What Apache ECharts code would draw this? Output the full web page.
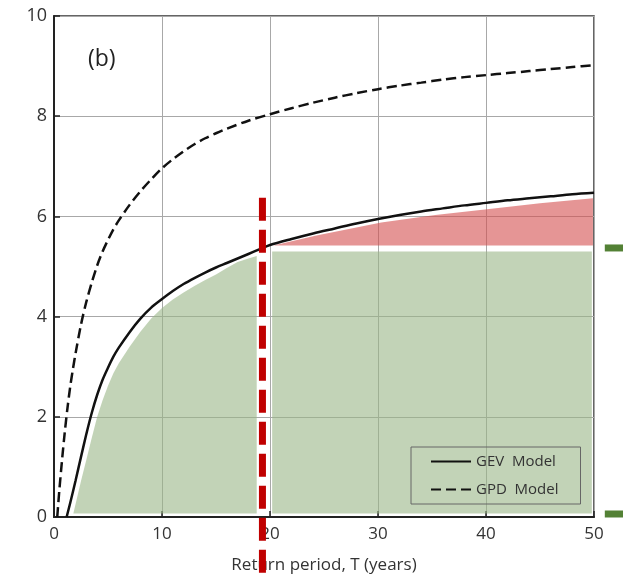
<!DOCTYPE html>
<html><head><meta charset="utf-8">
<script src="https://cdn.jsdelivr.net/npm/echarts@6/dist/echarts.min.js"></script>
<style>html,body{margin:0;padding:0;background:#fff}#c{width:623px;height:579px}</style>
</head><body><div id="c"></div>
<script>
// GEV model curve (return period T, value)
const gevT   = [1.17, 1.5, 2, 2.5, 3, 3.5, 4, 4.5, 5, 5.5, 6, 7, 8, 9, 10, 11, 12, 13, 14, 15, 16, 17, 18, 19, 20,
                22, 24, 26, 28, 30, 32, 34, 36, 38, 40, 42, 44, 46, 48, 50];
const gevVal = [0, 0.28, 0.73, 1.2, 1.66, 2.08, 2.44, 2.74, 2.98, 3.2, 3.38, 3.69, 3.96, 4.18, 4.35, 4.51, 4.65, 4.77, 4.88, 4.98, 5.07, 5.16, 5.25, 5.34, 5.43,
                5.55, 5.66, 5.76, 5.86, 5.95, 6.03, 6.10, 6.16, 6.22, 6.27, 6.32, 6.36, 6.40, 6.44, 6.47];
// GPD model curve
const gpdT   = [0.3, 0.5, 0.75, 1.0, 1.25, 1.5, 1.75, 2, 2.5, 3, 3.5, 4, 4.5, 5, 5.5, 6, 7, 8, 9, 10, 11, 12, 13, 14, 15, 16, 18, 20,
                22, 24, 26, 28, 30, 32, 34, 36, 38, 40, 42, 44, 46, 48, 50];
const gpdVal = [0, 0.55, 1.15, 1.7, 2.18, 2.6, 2.95, 3.27, 3.84, 4.3, 4.68, 5.02, 5.3, 5.53, 5.74, 5.92, 6.23, 6.5, 6.74, 6.96, 7.14, 7.30, 7.44, 7.56, 7.66, 7.75, 7.91, 8.04,
                8.16, 8.27, 8.37, 8.46, 8.54, 8.61, 8.67, 8.73, 8.78, 8.82, 8.86, 8.90, 8.94, 8.98, 9.02];
// green shaded area, left part (top edge)
const greenLeftT   = [1.79, 2.5, 3, 3.5, 4, 4.5, 5, 5.5, 6, 7, 8, 9, 10, 11, 12, 13, 14, 15, 16, 17, 18, 18.77];
const greenLeftTop = [0.07, 0.72, 1.15, 1.58, 2.0, 2.33, 2.62, 2.87, 3.07, 3.4, 3.7, 3.96, 4.17, 4.34, 4.48, 4.61, 4.73, 4.84, 4.97, 5.09, 5.16, 5.21];
const greenBase = 0.07;
// green shaded area, right part
const greenRightT = [20.2, 49.8];
const greenRightTop = 5.3;
// red shaded area
const redT    = [20.3, 24.3, 30.3, 35.3, 40.3, 45.0, 49.9];
const redTop  = [5.42, 5.62, 5.88, 6.03, 6.15, 6.26, 6.36];
const redBase = 5.42;
// red dashed threshold line
const redLineT = 19.3;
const redLineRange = [6.37, -1.45];
// green marks outside the plot
const greenMarkT = [51.0, 52.7];
const greenMarkVal = [5.37, 0.06];

function polyPoints(api, xs, ys) { return xs.map((x, i) => api.coord([x, ys[i]])); }

const chart = echarts.init(document.getElementById('c'));
const greenFill = 'rgba(153,182,135,0.6)';
const redFill = 'rgba(212,78,78,0.6)';

chart.setOption({
  animation: false,
  backgroundColor: '#fff',
  grid: { left: 54, right: 29, top: 16, bottom: 62, show: true, borderColor: '#333', borderWidth: 1.5 },
  xAxis: {
    type: 'value', min: 0, max: 50, interval: 10,
    axisLine: { show: true, onZero: false, lineStyle: { color: '#222', width: 2 } },
    axisTick: { show: true, inside: true, length: 6, lineStyle: { color: '#222', width: 1.5 } },
    axisLabel: { fontSize: 17, color: '#333', margin: 9, fontFamily: 'Open Sans' },
    splitLine: { show: true, lineStyle: { color: '#a8a8a8', width: 1 } },
    name: 'Return period, T (years)', nameLocation: 'middle', nameGap: 40,
    nameTextStyle: { fontSize: 17, color: '#333', fontFamily: 'Open Sans' }
  },
  yAxis: {
    type: 'value', min: 0, max: 10, interval: 2,
    axisLine: { show: true, onZero: false, lineStyle: { color: '#222', width: 2 } },
    axisTick: { show: true, inside: true, length: 6, lineStyle: { color: '#222', width: 1.5 } },
    axisLabel: { fontSize: 18, color: '#333', margin: 7, fontFamily: 'Open Sans' },
    splitLine: { show: true, lineStyle: { color: '#a8a8a8', width: 1 } }
  },
  legend: {
    orient: 'vertical', left: 411, top: 447,
    itemWidth: 40, itemHeight: 14, itemGap: 13,
    padding: [7, 22, 7, 19],
    borderColor: '#666', borderWidth: 1,
    itemStyle: { opacity: 0 },
    textStyle: { fontSize: 15, color: '#333', fontFamily: 'Open Sans' },
    data: ['GEV  Model', 'GPD  Model']
  },
  graphic: [{ type: 'text', left: 88, top: 48, style: { text: '(b)', fontSize: 23, fill: '#222', fontFamily: 'Open Sans' } }],
  series: [
    { type: 'custom', coordinateSystem: 'cartesian2d', data: [[0, 0]], silent: true, z: 1,
      renderItem: (p, api) => {
        const pts = polyPoints(api, greenLeftT, greenLeftTop);
        pts.push(api.coord([greenLeftT[greenLeftT.length - 1], greenBase]));
        pts.push(api.coord([greenLeftT[0], greenBase]));
        return { type: 'polygon', shape: { points: pts }, style: { fill: greenFill } };
      } },
    { type: 'custom', coordinateSystem: 'cartesian2d', data: [[0, 0]], silent: true, z: 1,
      renderItem: (p, api) => {
        const pts = [api.coord([greenRightT[0], greenBase]), api.coord([greenRightT[0], greenRightTop]),
                     api.coord([greenRightT[1], greenRightTop]), api.coord([greenRightT[1], greenBase])];
        return { type: 'polygon', shape: { points: pts }, style: { fill: greenFill } };
      } },
    { type: 'custom', coordinateSystem: 'cartesian2d', data: [[0, 0]], silent: true, z: 1,
      renderItem: (p, api) => {
        const pts = polyPoints(api, redT, redTop);
        pts.push(api.coord([redT[redT.length - 1], redBase]));
        pts.push(api.coord([redT[0], redBase]));
        return { type: 'polygon', shape: { points: pts }, style: { fill: redFill } };
      } },
    { name: 'GEV  Model', type: 'line', data: gevT.map((t, i) => [t, gevVal[i]]), symbol: 'none',
      smooth: 0.3, z: 3,
      lineStyle: { color: '#111', width: 2.5 }, itemStyle: { color: '#111' } },
    { name: 'GPD  Model', type: 'line', data: gpdT.map((t, i) => [t, gpdVal[i]]), symbol: 'none',
      smooth: 0.3, z: 3,
      lineStyle: { color: '#111', width: 2.5, type: [10, 5] }, itemStyle: { color: '#111' } },
    { type: 'custom', coordinateSystem: 'cartesian2d', data: [[0, 0]], silent: true, z: 10, clip: false,
      renderItem: (p, api) => {
        const a = api.coord([redLineT, redLineRange[0]]);
        const b = api.coord([redLineT, redLineRange[1]]);
        return { type: 'line', shape: { x1: a[0], y1: a[1], x2: b[0], y2: b[1] },
                 style: { stroke: '#c00000', lineWidth: 7, lineDash: [23, 9] } };
      } },
    { type: 'custom', coordinateSystem: 'cartesian2d', data: greenMarkVal.map(v => [greenMarkT[0], v]), silent: true, z: 10, clip: false,
      renderItem: (p, api) => {
        const v = api.value(1);
        const a = api.coord([greenMarkT[0], v]);
        const b = api.coord([greenMarkT[1], v]);
        return { type: 'line', shape: { x1: a[0], y1: a[1], x2: b[0], y2: b[1] },
                 style: { stroke: '#538135', lineWidth: 7 } };
      } }
  ]
});
</script>
</body></html>
